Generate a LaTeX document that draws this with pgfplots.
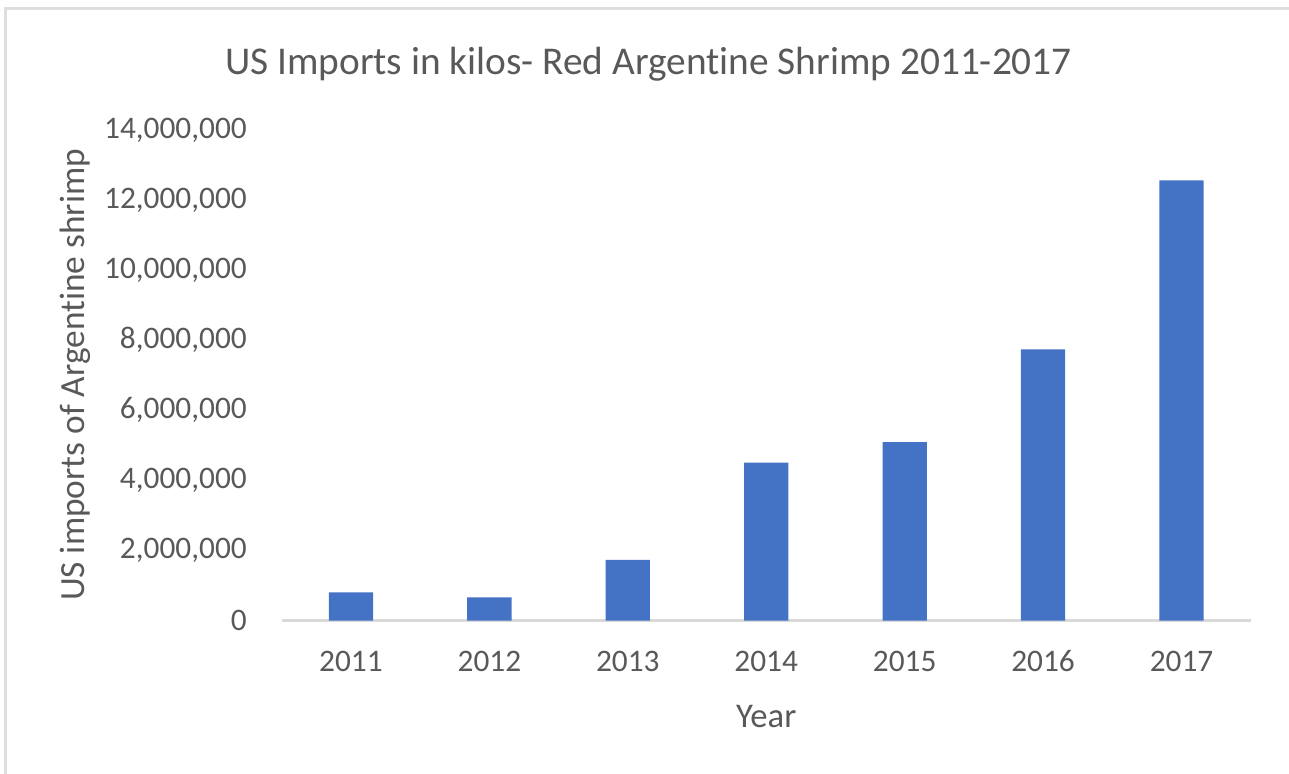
\documentclass[border=0pt]{standalone}
\usepackage{pgfplots}
\pgfplotsset{compat=1.18}
\usepackage{fontspec}
\setmainfont{Carlito}[RawFeature={-liga;-clig;-dlig}]

\definecolor{barblue}{HTML}{4472C4}
\definecolor{txtgray}{HTML}{595959}
\definecolor{axgray}{HTML}{D9D9D9}
\definecolor{framegray}{HTML}{DEDEDE}

\begin{document}
\begin{tikzpicture}
% 1 px of the reference = 0.75pt
\path[use as bounding box] (0,0) rectangle (966.75pt,580.5pt);
\draw[framegray, line width=2.25pt] (3pt,580.5pt-6.75pt) -- (966.75pt,580.5pt-6.75pt);
\draw[framegray, line width=2.25pt] (4.1pt,0) -- (4.1pt,580.5pt-6.75pt);

\begin{axis}[
    at={(211.3pt,115.1pt)}, anchor=south west,
    scale only axis,
    width=726.75pt,
    height=367.9pt,
    ybar,
    bar width=0.32,
    xmin=-0.5, xmax=6.5,
    ymin=0, ymax=14000000,
    enlargelimits=false,
    xtick={0,1,2,3,4,5,6},
    xticklabels={2011,2012,2013,2014,2015,2016,2017},
    ytick={0,2000000,4000000,6000000,8000000,10000000,12000000,14000000},
    scaled y ticks=false,
    /pgf/number format/fixed,
    /pgf/number format/1000 sep={,},
    /pgf/number format/assume math mode=true,
    axis x line*=bottom,
    axis y line*=left,
    x axis line style={draw=axgray, line width=1.6pt},
    y axis line style={draw=none},
    major tick length=0pt,
    tick style={draw=none},
    tick label style={font=\fontsize{23.5}{28}\selectfont, text=txtgray},
    yticklabel style={anchor=east, inner sep=0pt, xshift=-26pt},
    xticklabel style={anchor=center, inner sep=0pt, yshift=-30.4pt},
    title={US Imports in kilos- Red Argent\kern0pt ine Shrimp 2011-2017},
    title style={at={(axis description cs:0.3785,1.118)}, anchor=center,
        font=\fontsize{29.5}{34}\selectfont, text=txtgray, inner sep=0pt},
    xlabel={Year},
    xlabel style={at={(axis description cs:0.5,-0.1947)}, anchor=center,
        font=\fontsize{26}{30}\selectfont, text=txtgray, inner sep=0pt},
    ylabel={US imports of Argent\kern0pt ine shrimp},
    ylabel style={at={(axis description cs:-0.2133,0.5005)}, anchor=center, rotate=0,
        font=\fontsize{26.5}{31}\selectfont, text=txtgray, inner sep=0pt},
]
\addplot[fill=barblue, draw=none] coordinates {
    (0, 800000)
    (1, 660000)
    (2, 1730000)
    (3, 4510000)
    (4, 5090000)
    (5, 7740000)
    (6, 12560000)
};
\end{axis}
\end{tikzpicture}
\end{document}
